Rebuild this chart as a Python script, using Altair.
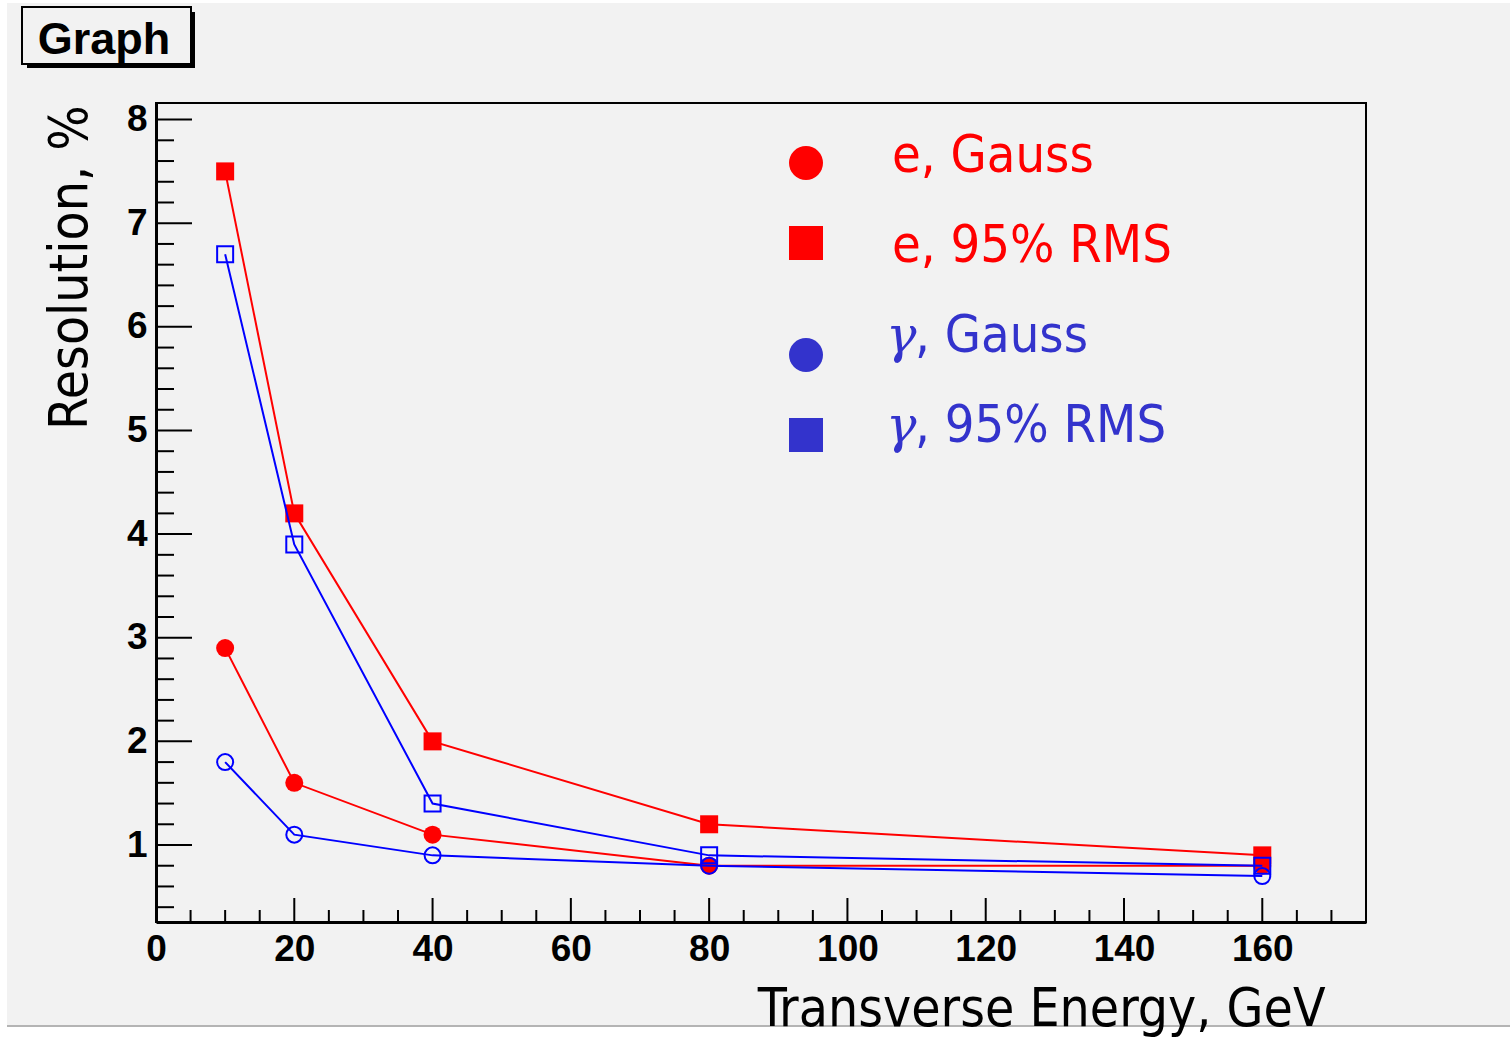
import altair as alt
import pandas as pd

# ---- data ----
energy = [10, 20, 40, 80, 160]
e_gauss = [2.9, 1.6, 1.1, 0.8, 0.8]
e_rms = [7.5, 4.2, 2.0, 1.2, 0.9]
g_gauss = [1.8, 1.1, 0.9, 0.8, 0.7]
g_rms = [6.7, 3.9, 1.4, 0.9, 0.8]

x_major = [0, 20, 40, 60, 80, 100, 120, 140, 160]
x_minor = [v for v in range(5, 176, 5) if v % 20 != 0]
y_major = [1, 2, 3, 4, 5, 6, 7, 8]
y_minor = [round(0.4 + 0.2 * i, 1) for i in range(39) if abs((0.4 + 0.2 * i) - round(0.4 + 0.2 * i)) > 1e-6]

legend_labels = ["e, Gauss", "e, 95% RMS", ", Gauss", ", 95% RMS"]
legend_prefix = ["", "", "γ", "γ"]

x_title = "Transverse Energy, GeV"
y_title = "Resolution, %"
box_title = "Graph"

# ---- styling ----
W, H = 1210, 819
OX, OY = 156, 103
RED = "#ff0000"
BLUE = "#0000ff"
LEG_BLUE = "#3333cc"
BG = "#f2f2f2"
SANS = "DejaVu Sans Condensed, DejaVu Sans"
BOLD = "Liberation Sans, Arial, Helvetica"

xs = alt.Scale(domain=[0, 175], nice=False, zero=False)
ys = alt.Scale(domain=[0.257, 8.16], nice=False, zero=False)

x_axis = alt.Axis(
    values=x_major, ticks=False, grid=False, domainWidth=3, domainColor="black",
    labelFont=BOLD, labelFontWeight="bold", labelFontSize=37, labelColor="black",
    labelPadding=9, labelFlush=False, format="d", zindex=2,
    title=x_title, titleFont=SANS, titleFontWeight="normal", titleFontSize=53,
    titleColor="black", titleAlign="right", titleAnchor="start", titleBaseline="alphabetic",
    titleX=1325 - OX, titleY=1025 - (OY + H))
y_axis = alt.Axis(
    values=y_major, ticks=False, grid=False, domainWidth=3, domainColor="black",
    labelFont=BOLD, labelFontWeight="bold", labelFontSize=37, labelColor="black",
    labelPadding=9, labelFlush=False, format="d", zindex=2,
    title=y_title, titleFont=SANS, titleFontWeight="normal", titleFontSize=53,
    titleColor="black", titleAlign="right", titleAnchor="start", titleBaseline="alphabetic",
    titleAngle=270, titleX=86 - OX, titleY=105 - OY)

X = alt.X("energy:Q", scale=xs, axis=x_axis)
Y = alt.Y("value:Q", scale=ys, axis=y_axis)


def px(x):
    return x - OX


def py(y):
    return y - OY


def series_df(vals):
    return pd.DataFrame({"energy": energy, "value": vals})


dummy = pd.DataFrame({"a": [0]})

# background panel
bg = alt.Chart(dummy).mark_rect(color=BG).encode(
    x=alt.value(px(7)), x2=alt.value(px(1510)),
    y=alt.value(py(3)), y2=alt.value(py(1025)))
bottom_line = alt.Chart(dummy).mark_rule(color="#b4b4b4", strokeWidth=2).encode(
    x=alt.value(px(7)), x2=alt.value(px(1510)), y=alt.value(py(1026)))

# plot frame
frame = alt.Chart(dummy).mark_rect(fillOpacity=0, stroke="black", strokeWidth=2).encode(
    x=alt.value(0), x2=alt.value(W), y=alt.value(0), y2=alt.value(H))

# title box
shadow = alt.Chart(dummy).mark_rect(color="black").encode(
    x=alt.value(px(27)), x2=alt.value(px(195)),
    y=alt.value(py(12)), y2=alt.value(py(68)))
box = alt.Chart(dummy).mark_rect(fill=BG, stroke="black", strokeWidth=2).encode(
    x=alt.value(px(22)), x2=alt.value(px(191)),
    y=alt.value(py(7)), y2=alt.value(py(64)))
box_text = alt.Chart(dummy).mark_text(
    text=box_title, font=BOLD, fontWeight="bold", fontSize=45,
    align="center", baseline="alphabetic", color="black").encode(
    x=alt.value(px(104)), y=alt.value(py(54)))


# inward ticks
def xticks(vals, length):
    return alt.Chart(pd.DataFrame({"energy": vals})).mark_rule(color="black", strokeWidth=2).encode(
        x=X, y=alt.value(H), y2=alt.value(H - length))


def yticks(vals, length):
    return alt.Chart(pd.DataFrame({"value": vals})).mark_rule(color="black", strokeWidth=2).encode(
        y=Y, x=alt.value(0), x2=alt.value(length))


def line(vals, color):
    return alt.Chart(series_df(vals)).mark_line(color=color, strokeWidth=2).encode(x=X, y=Y)


def pts(vals, color, shape, filled):
    if filled:
        m = alt.Chart(series_df(vals)).mark_point(
            shape=shape, filled=True, color=color, size=324, opacity=1, strokeWidth=0)
    else:
        m = alt.Chart(series_df(vals)).mark_point(
            shape=shape, filled=False, color=color, size=256, opacity=1, strokeWidth=2)
    return m.encode(x=X, y=Y)


# legend
leg_sym_y = [163, 243, 355, 435]
leg_txt_y = [172, 262, 352, 442]
leg_shapes = ["circle", "square", "circle", "square"]
leg_colors = [RED, RED, LEG_BLUE, LEG_BLUE]
legend_layers = []
for i in range(4):
    legend_layers.append(alt.Chart(dummy).mark_point(
        shape=leg_shapes[i], filled=True, color=leg_colors[i], size=1156, opacity=1).encode(
        x=alt.value(px(806)), y=alt.value(py(leg_sym_y[i]))))
    if legend_prefix[i]:
        legend_layers.append(alt.Chart(dummy).mark_text(
            text=legend_prefix[i], font="DejaVu Serif", fontStyle="italic", fontSize=51,
            color=leg_colors[i], align="left", baseline="alphabetic").encode(
            x=alt.value(px(886)), y=alt.value(py(leg_txt_y[i]))))
        tx = 915
    else:
        tx = 892
    legend_layers.append(alt.Chart(dummy).mark_text(
        text=legend_labels[i], font=SANS, fontSize=52,
        color=leg_colors[i], align="left", baseline="alphabetic").encode(
        x=alt.value(px(tx)), y=alt.value(py(leg_txt_y[i]))))

chart = alt.layer(
    bg, bottom_line, shadow, box, box_text,
    xticks(x_minor, 12), xticks(x_major, 24),
    yticks(y_minor, 18), yticks(y_major, 36),
    line(e_gauss, RED), line(e_rms, RED),
    pts(e_gauss, RED, "circle", True), pts(e_rms, RED, "square", True),
    line(g_gauss, BLUE), line(g_rms, BLUE),
    pts(g_gauss, BLUE, "circle", False), pts(g_rms, BLUE, "square", False),
    frame,
    *legend_layers,
).properties(
    width=W, height=H,
    padding={"left": OX, "top": OY, "right": 1510 - OX - W, "bottom": 1037 - OY - H},
    autosize=alt.AutoSizeParams(type="none"),
    background="white",
).configure_view(stroke=None)

chart.save("out.html", embed_options={"renderer": "svg", "actions": False})
